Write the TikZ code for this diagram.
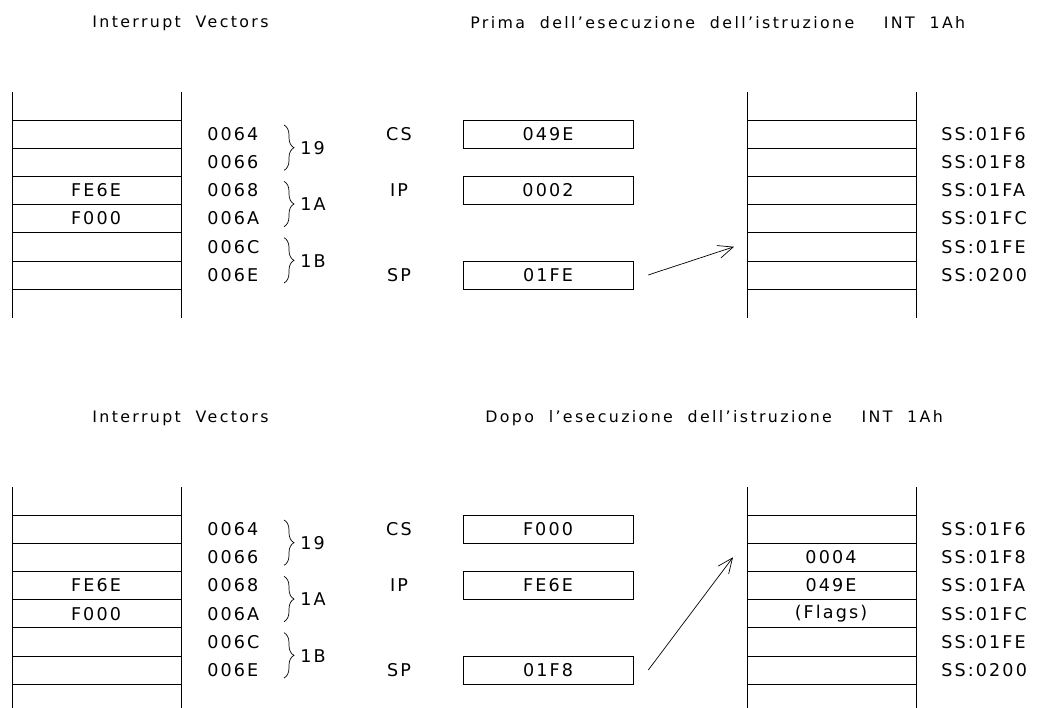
\documentclass[tikz,border=0pt]{standalone}
\usepackage{fontspec}
\setmainfont{DejaVu Sans}[LetterSpace=12]
\newfontfamily\titlefont{DejaVu Sans}[LetterSpace=15, Ligatures=TeX]
\usetikzlibrary{arrows.meta, decorations.pathreplacing}

\tikzset{
  lbl/.style={font=\fontsize{10}{12}\selectfont, inner sep=0pt},
  ttl/.style={font=\titlefont\fontsize{9}{11}\selectfont, anchor=west, inner sep=0pt},
  reg/.style={draw, lbl, minimum width=3.4cm, minimum height=0.56cm},
  grp/.style={decorate, decoration={brace, amplitude=0.2cm}},
  ptr/.style={-{Straight Barb[length=3mm, width=2.6mm]}},
}

\begin{document}
\begin{tikzpicture}[x=0.02cm, y=-0.02cm, line width=0.4pt]
  % Margini del disegno (in pixel: 1037 x 707)
  \useasboundingbox (0,0) rectangle (1037,707);

  % Parametri delle pile: prima riga e altezza di riga
  \def\rtop{120}
  \def\rh{28.17}

  % ===== Prima dell'esecuzione =====
  \begin{scope}
    \node[ttl] (vecP) at (92,23) {Interrupt\ \ Vectors};
    \node[ttl] (titP) at (470,23) {Prima\ \ dell'esecuzione\ \ dell'istruzione\ \ \ \ INT\ \ 1Ah};

    % Pile: tabella dei vettori e stack
    \draw (12,92) -- (12,318) (181,92) -- (181,318);
    \draw (747,92) -- (747,318) (916,92) -- (916,318);
    \foreach \i in {0,...,6}
      \draw (12,\rtop+\i*\rh) -- (181,\rtop+\i*\rh) (747,\rtop+\i*\rh) -- (916,\rtop+\i*\rh);

    % Indirizzi
    \foreach \a [count=\i from 0] in {0064,0066,0068,006A,006C,006E}
      \node[lbl, anchor=west] (adrP\i) at (207,\rtop+\rh/2+\i*\rh) {\a};
    \foreach \a [count=\i from 0] in {01F6,01F8,01FA,01FC,01FE,0200}
      \node[lbl, anchor=west] (ssP\i) at (941,\rtop+\rh/2+\i*\rh) {SS:\a};

    % Vettori 19, 1A, 1B (coppie di parole)
    \foreach \v [count=\i from 0] in {19,1A,1B} {
      \draw[grp] (284,\rtop+2*\i*\rh+5) -- (284,\rtop+2*\i*\rh+2*\rh-6);
      \node[lbl, anchor=west] (intP\i) at (300,\rtop+2*\i*\rh+\rh) {\v};
    }

    % Contenuto del vettore 1A
    \node[lbl] (ipvecP) at (96,\rtop+2.5*\rh) {FE6E};
    \node[lbl] (csvecP) at (96,\rtop+3.5*\rh) {F000};

    % Registri
    \node[lbl] (csP) at (399,\rtop+0.5*\rh) {CS};
    \node[lbl] (ipP) at (399,\rtop+2.5*\rh) {IP};
    \node[lbl] (spP) at (399,\rtop+5.5*\rh) {SP};
    \node[reg] (csvP) at (548,\rtop+0.5*\rh) {049E};
    \node[reg] (ipvP) at (548,\rtop+2.5*\rh) {0002};
    \node[reg] (spvP) at (548,\rtop+5.5*\rh) {01FE};

    % SP punta a SS:01FE
    \coordinate (tosP) at (734,\rtop+4.5*\rh);
    \draw[ptr] ([xshift=0.3cm]spvP.east) -- (tosP);
  \end{scope}

  % ===== Dopo l'esecuzione =====
  \begin{scope}[shift={(0,395)}]
    \node[ttl] (vecD) at (92,23) {Interrupt\ \ Vectors};
    \node[ttl] (titD) at (485,23) {Dopo\ \ l'esecuzione\ \ dell'istruzione\ \ \ \ INT\ \ 1Ah};

    % Pile: tabella dei vettori e stack
    \draw (12,92) -- (12,318) (181,92) -- (181,318);
    \draw (747,92) -- (747,318) (916,92) -- (916,318);
    \foreach \i in {0,...,6}
      \draw (12,\rtop+\i*\rh) -- (181,\rtop+\i*\rh) (747,\rtop+\i*\rh) -- (916,\rtop+\i*\rh);

    % Indirizzi
    \foreach \a [count=\i from 0] in {0064,0066,0068,006A,006C,006E}
      \node[lbl, anchor=west] (adrD\i) at (207,\rtop+\rh/2+\i*\rh) {\a};
    \foreach \a [count=\i from 0] in {01F6,01F8,01FA,01FC,01FE,0200}
      \node[lbl, anchor=west] (ssD\i) at (941,\rtop+\rh/2+\i*\rh) {SS:\a};

    % Vettori 19, 1A, 1B
    \foreach \v [count=\i from 0] in {19,1A,1B} {
      \draw[grp] (284,\rtop+2*\i*\rh+5) -- (284,\rtop+2*\i*\rh+2*\rh-6);
      \node[lbl, anchor=west] (intD\i) at (300,\rtop+2*\i*\rh+\rh) {\v};
    }

    % Contenuto del vettore 1A
    \node[lbl] (ipvecD) at (96,\rtop+2.5*\rh) {FE6E};
    \node[lbl] (csvecD) at (96,\rtop+3.5*\rh) {F000};

    % Stack dopo i push
    \node[lbl] (pushIP) at (831,\rtop+1.5*\rh) {0004};
    \node[lbl] (pushCS) at (831,\rtop+2.5*\rh) {049E};
    \node[lbl] (pushFL) at (831,\rtop+3.5*\rh) {(Flags)};

    % Registri
    \node[lbl] (csD) at (399,\rtop+0.5*\rh) {CS};
    \node[lbl] (ipD) at (399,\rtop+2.5*\rh) {IP};
    \node[lbl] (spD) at (399,\rtop+5.5*\rh) {SP};
    \node[reg] (csvD) at (548,\rtop+0.5*\rh) {F000};
    \node[reg] (ipvD) at (548,\rtop+2.5*\rh) {FE6E};
    \node[reg] (spvD) at (548,\rtop+5.5*\rh) {01F8};

    % SP punta a SS:01F8
    \coordinate (tosD) at (733,\rtop+1.5*\rh);
    \draw[ptr] ([xshift=0.3cm]spvD.east) -- (tosD);
  \end{scope}
\end{tikzpicture}
\end{document}
